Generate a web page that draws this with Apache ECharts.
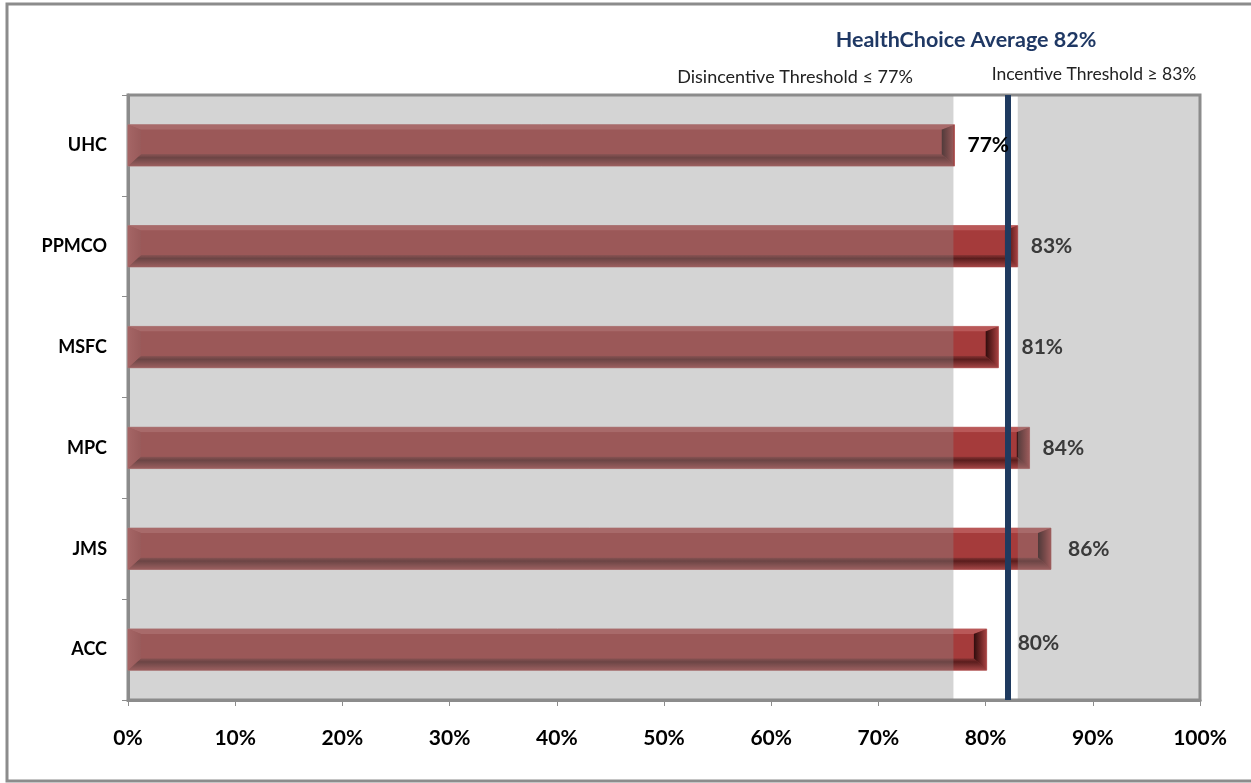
<!DOCTYPE html>
<html>
<head>
<meta charset="utf-8">
<script src="https://cdn.jsdelivr.net/npm/echarts@6/dist/echarts.min.js"></script>
<style>
html,body{margin:0;padding:0;background:#fff;}
#chart{width:1251px;height:783px;}
</style>
</head>
<body>
<div id="chart"></div>
<script>
// ---- data ----
const categories = ['UHC', 'PPMCO', 'MSFC', 'MPC', 'JMS', 'ACC'];
const values = [77.1, 83.0, 81.2, 84.1, 86.1, 80.1];
const xTicks = [0, 10, 20, 30, 40, 50, 60, 70, 80, 90, 100];
const disincentiveThreshold = 77;
const incentiveThreshold = 83;
const healthChoiceAverage = 82.1;
const titleText = 'HealthChoice Average 82%';
const disincentiveText = 'Disincentive Threshold \u2264 77%';
const incentiveText = 'Incentive Threshold \u2265 83%';

// ---- layout / style (not data) ----
const FONT = 'Lato';
const labelNudgeX = [0, 0, 10, 0, 4, 18];
const labelNudgeY = [0, 0, 0, 0, 0, -6];
const labelColors = ['#000000', '#3a3a3a', '#3a3a3a', '#3a3a3a', '#3a3a3a', '#3a3a3a'];

const chart = echarts.init(document.getElementById('chart'), null, {renderer: 'canvas'});

function renderBar(params, api) {
  const v = api.value(0);
  const c = api.value(1);
  const p0 = api.coord([0, c]);
  const p1 = api.coord([v, c]);
  const band = api.size([0, 1])[1];
  const h = band * 0.41;
  const x0 = p0[0], x1 = p1[0];
  const y0 = p0[1] - h / 2, y1 = y0 + h;
  const i = 13, t = 5, b = 12;
  return {
    type: 'group',
    children: [
      {type: 'rect', shape: {x: x0, y: y0, width: x1 - x0, height: h},
        style: {fill: '#a63e3e', stroke: 'rgba(195,120,120,0.9)', lineWidth: 1}},
      {type: 'polygon', shape: {points: [[x0, y0], [x1, y0], [x1 - i, y0 + t], [x0 + i, y0 + t]]},
        style: {fill: '#b95858'}},
      {type: 'polygon', shape: {points: [[x0, y1], [x1, y1], [x1 - i, y1 - b], [x0 + i, y1 - b]]},
        style: {fill: new echarts.graphic.LinearGradient(0, 0, 0, 1, [
          {offset: 0, color: '#8a3434'}, {offset: 0.3, color: '#5a1d1d'}, {offset: 0.6, color: '#7a2f2f'}, {offset: 1, color: '#a54646'}])}},
      {type: 'polygon', shape: {points: [[x0, y0], [x0 + i, y0 + t], [x0 + i, y1 - b], [x0, y1]]},
        style: {fill: new echarts.graphic.LinearGradient(0, 0, 1, 0, [
          {offset: 0, color: '#b45050'}, {offset: 1, color: '#a23f3f'}])}},
      {type: 'polygon', shape: {points: [[x1, y0], [x1 - i, y0 + t], [x1 - i, y1 - b], [x1, y1]]},
        style: {fill: new echarts.graphic.LinearGradient(0, 0, 1, 0, [
          {offset: 0, color: '#2e0c0c'}, {offset: 0.5, color: '#6a2424'}, {offset: 1, color: '#a84242'}])}},
      {type: 'rect', shape: {x: x0 + i, y: y0 + t, width: Math.max(0, x1 - x0 - 2 * i), height: h - t - b},
        style: {fill: '#a53b3b'}}
    ]
  };
}

function renderBand(params, api) {
  const a = api.coord([api.value(0), 0]);
  const b = api.coord([api.value(1), 0]);
  const cs = params.coordSys;
  return {type: 'rect', shape: {x: a[0], y: cs.y, width: b[0] - a[0], height: cs.height},
    style: {fill: 'rgba(139,139,139,0.37)'}};
}

function renderLabel(params, api) {
  const k = params.dataIndex;
  const v = api.value(0);
  const p = api.coord([v, api.value(1)]);
  return {type: 'text', x: p[0] + 13 + labelNudgeX[k], y: p[1] + labelNudgeY[k],
    style: {text: Math.round(v) + '%', fontFamily: FONT, fontWeight: 'bold', fontSize: 21,
      fill: labelColors[k], align: 'left', verticalAlign: 'middle'}};
}

const barData = values.map((v, k) => [v, k]);
const bandData = [[0, disincentiveThreshold], [incentiveThreshold, 100]];

const option = {
  backgroundColor: '#ffffff',
  animation: false,
  textStyle: {fontFamily: FONT},
  grid: {left: 128, right: 51, top: 95, bottom: 83, show: true,
    borderColor: '#8c8c8c', borderWidth: 3, backgroundColor: '#ffffff'},
  xAxis: {
    type: 'value', min: 0, max: 100, interval: 10,
    axisLine: {show: true, lineStyle: {color: '#8c8c8c', width: 3}},
    axisTick: {show: true, length: 6, lineStyle: {color: '#8c8c8c', width: 1}},
    splitLine: {show: false},
    axisLabel: {margin: 28, fontFamily: FONT, fontWeight: 'bold', fontSize: 21, color: '#000',
      formatter: v => xTicks.indexOf(v) >= 0 ? v + '%' : ''}
  },
  yAxis: {
    type: 'category', data: categories, inverse: true,
    axisLine: {show: true, lineStyle: {color: '#8c8c8c', width: 3}},
    axisTick: {show: true, length: 6, alignWithLabel: false, lineStyle: {color: '#8c8c8c', width: 1}},
    axisLabel: {margin: 21, fontFamily: FONT, fontWeight: 'bold', fontSize: 18, color: '#000'}
  },
  graphic: [
    {type: 'rect', silent: true, z: 100, shape: {x: 7, y: 4, width: 1300, height: 777},
      style: {fill: null, stroke: '#8c8c8c', lineWidth: 3}},
    {type: 'text', z: 100, x: 966, y: 40, style: {text: titleText, fontFamily: FONT, fontWeight: 'bold',
      fontSize: 21.5, fill: '#1f3864', align: 'center', verticalAlign: 'middle'}},
    {type: 'text', z: 100, x: 795, y: 77, style: {text: disincentiveText, fontFamily: FONT,
      fontSize: 18, fill: '#222', align: 'center', verticalAlign: 'middle'}},
    {type: 'text', z: 100, x: 1094, y: 74, style: {text: incentiveText, fontFamily: FONT,
      fontSize: 17.5, fill: '#222', align: 'center', verticalAlign: 'middle'}}
  ],
  series: [
    {type: 'custom', name: 'bars', z: 2, renderItem: renderBar, data: barData,
      encode: {x: 0, y: 1}},
    {type: 'custom', name: 'bands', z: 5, renderItem: renderBand, data: bandData, silent: true,
      encode: {x: [0, 1]},
      markLine: {silent: true, symbol: ['none', 'none'], label: {show: false},
        lineStyle: {color: '#1f3a5f', width: 6, type: 'solid'},
        data: [{xAxis: healthChoiceAverage}]}},
    {type: 'custom', name: 'labels', z: 10, renderItem: renderLabel, data: barData, silent: true,
      encode: {x: 0, y: 1}}
  ]
};
chart.setOption(option);
</script>
</body>
</html>
